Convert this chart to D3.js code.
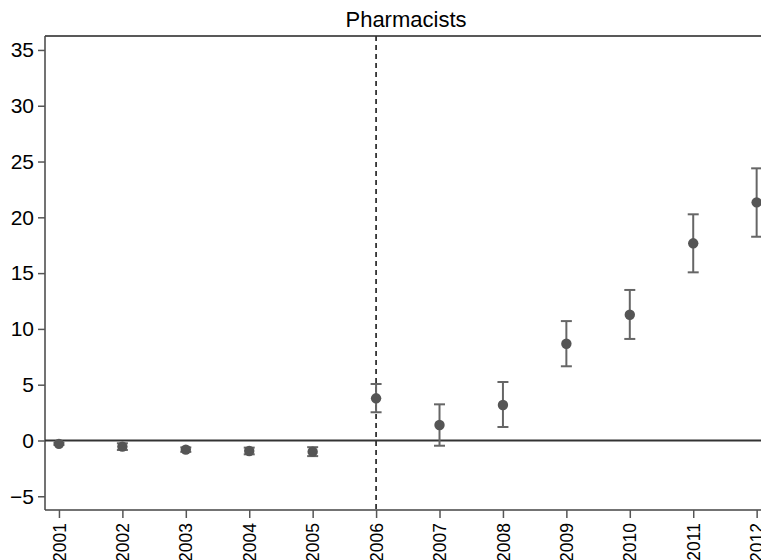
<!DOCTYPE html>
<html>
<head>
<meta charset="utf-8">
<script src="https://cdn.jsdelivr.net/npm/d3@7"></script>
<style>
  html, body { margin: 0; padding: 0; background: #fff; }
  svg { display: block; font-family: "Liberation Sans", Arial, sans-serif; }
</style>
</head>
<body>
<svg id="chart" width="761" height="560"></svg>
<script>
const title = "Pharmacists";
const years = [2001, 2002, 2003, 2004, 2005, 2006, 2007, 2008, 2009, 2010, 2011, 2012];
const estimates = [-0.3, -0.55, -0.82, -0.94, -1.0, 3.78, 1.39, 3.18, 8.67, 11.27, 17.67, 21.34];
const lowerCI = [-0.4, -0.85, -1.02, -1.24, -1.4, 2.53, -0.47, 1.21, 6.65, 9.1, 15.07, 18.26];
const upperCI = [-0.2, -0.25, -0.62, -0.64, -0.6, 5.06, 3.24, 5.24, 10.7, 13.49, 20.27, 24.39];
const yTicks = [-5, 0, 5, 10, 15, 20, 25, 30, 35];
const eventYear = 2006;

const svg = d3.select("#chart");

const x = d3.scaleLinear().domain([2000.78, 2012.22]).range([45, 770.6]);
const y = d3.scaleLinear().domain([-6.23, 36.25]).range([510, 36]);

// title
svg.append("text")
  .attr("x", 406).attr("y", 26.5)
  .attr("text-anchor", "middle")
  .attr("font-size", 22)
  .attr("fill", "#000")
  .text(title);

// top border
svg.append("line")
  .attr("x1", 45).attr("x2", 761)
  .attr("y1", 36).attr("y2", 36)
  .attr("stroke", "#222").attr("stroke-width", 1.5);

// y axis
const yAxis = d3.axisLeft(y).tickValues(yTicks).tickSize(7).tickPadding(4).tickFormat(d3.format("d"));
const gy = svg.append("g").attr("transform", "translate(45,0)").call(yAxis);
gy.select(".domain").attr("stroke", "#444").attr("stroke-width", 1.5)
  .attr("d", "M0,36V510");
gy.selectAll(".tick line").attr("stroke", "#555").attr("stroke-width", 1.5);
gy.selectAll(".tick text").attr("font-size", 21).attr("fill", "#000")
  .attr("font-family", "Liberation Sans, Arial, sans-serif");

// x axis
const xAxis = d3.axisBottom(x).tickValues(years).tickSize(8).tickFormat(d3.format("d"));
const gx = svg.append("g").attr("transform", "translate(0,510)").call(xAxis);
gx.select(".domain").attr("stroke", "#444").attr("stroke-width", 1.5)
  .attr("d", "M45,0H761");
gx.selectAll(".tick line").attr("stroke", "#555").attr("stroke-width", 1.5);
gx.selectAll(".tick text")
  .attr("font-size", 17.5).attr("fill", "#000")
  .attr("font-family", "Liberation Sans, Arial, sans-serif")
  .attr("transform", "rotate(-90)")
  .attr("text-anchor", "end")
  .attr("x", -13).attr("y", 0).attr("dy", "0.35em");

// zero line
svg.append("line")
  .attr("x1", 45).attr("x2", 761)
  .attr("y1", y(0)).attr("y2", y(0))
  .attr("stroke", "#333").attr("stroke-width", 2);

// event line
svg.append("line")
  .attr("x1", x(eventYear)).attr("x2", x(eventYear))
  .attr("y1", 36).attr("y2", 510)
  .attr("stroke", "#333").attr("stroke-width", 1.8)
  .attr("stroke-dasharray", "5,4");

const data = years.map((yr, i) => ({ yr, est: estimates[i], lo: lowerCI[i], hi: upperCI[i] }));
const eb = svg.append("g").attr("stroke", "#666").attr("stroke-width", 2);
eb.selectAll(".v").data(data).join("line")
  .attr("x1", d => x(d.yr)).attr("x2", d => x(d.yr))
  .attr("y1", d => y(d.lo)).attr("y2", d => y(d.hi));
eb.selectAll(".ct").data(data).join("line")
  .attr("x1", d => x(d.yr) - 5.5).attr("x2", d => x(d.yr) + 5.5)
  .attr("y1", d => y(d.hi)).attr("y2", d => y(d.hi));
eb.selectAll(".cb").data(data).join("line")
  .attr("x1", d => x(d.yr) - 5.5).attr("x2", d => x(d.yr) + 5.5)
  .attr("y1", d => y(d.lo)).attr("y2", d => y(d.lo));

svg.append("g").selectAll("circle").data(data).join("circle")
  .attr("cx", d => x(d.yr)).attr("cy", d => y(d.est))
  .attr("r", 5.2).attr("fill", "#555");
</script>
</body>
</html>
